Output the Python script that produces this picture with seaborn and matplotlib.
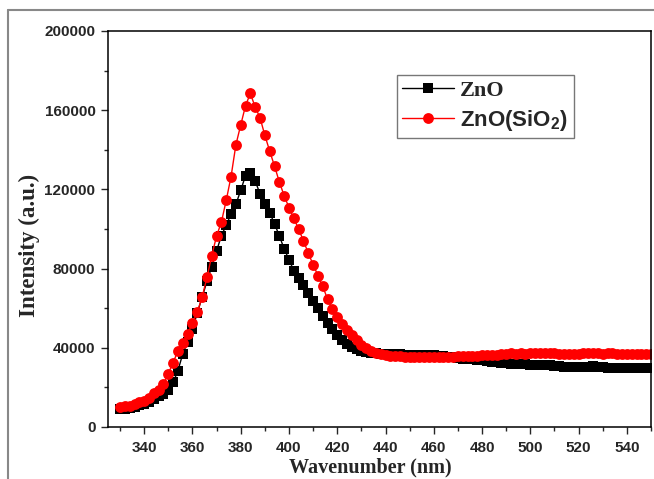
import matplotlib
matplotlib.use("Agg")
import matplotlib.pyplot as plt
import seaborn as sns
from matplotlib.lines import Line2D
from matplotlib.ticker import MultipleLocator

# wavelength grid of the spectrometer (nm), one point every 2 nm
wavelength = list(range(330, 551, 2))

# ZnO photoluminescence intensity (a.u.)
zno = [9000, 9300, 9700, 10300, 11000, 11500, 12800, 14300, 15500, 16800,
       18500, 22500, 28500, 37000, 43000, 49500, 57500, 65500, 73500, 81000,
       89000, 96500, 102000, 107500, 112500, 119500, 127000, 128300, 124200, 117800,
       112800, 108200, 102700, 96500, 90000, 84500, 79000, 75000, 71500, 67500,
       63500, 60000, 56000, 52500, 49500, 46500, 44000, 42000, 40500, 39300,
       38500, 38000, 37600, 37300, 37100, 37000, 36900, 36800, 36700, 36600,
       36600, 36500, 36500, 36400, 36300, 36200, 36000, 35700, 35400, 35100,
       34800, 34500, 34300, 34100, 33900, 33600, 33300, 33000, 32700, 32400,
       32100, 31900, 31800, 31700, 31600, 31500, 31400, 31300, 31200, 31100,
       30900, 30600, 30300, 30200, 30300, 30400, 30500, 30500, 30600, 30500,
       30300, 30000, 29800, 29700, 29800, 29700, 29800, 29700, 29800, 29700,
       29800]

# ZnO(SiO2) photoluminescence intensity (a.u.)
zno_sio2 = [10200, 10400, 10800, 11500, 12500, 13200, 14800, 17000, 18800, 21800,
            27000, 32500, 38500, 42500, 47000, 52500, 58000, 65500, 75500, 86500,
            96500, 103500, 114500, 126500, 142500, 152500, 162300, 168500, 161500, 156200,
            147300, 139400, 131800, 123800, 116800, 110800, 105400, 100000, 94000, 87800,
            82000, 76500, 71000, 64500, 59500, 55700, 52000, 49000, 46500, 44000,
            41500, 40000, 38600, 37600, 37000, 36500, 36100, 35800, 35600, 35500,
            35400, 35300, 35200, 35200, 35200, 35300, 35200, 35300, 35400, 35500,
            35600, 35800, 35800, 36000, 36000, 36200, 36300, 36500, 36600, 36800,
            37000, 37200, 37100, 37300, 37000, 37400, 37200, 37500, 37300, 37600,
            37400, 37000, 36800, 36900, 37100, 37000, 37200, 37400, 37600, 37200,
            37000, 37300, 37500, 37100, 36900, 37000, 36800, 36900, 37000, 36900,
            37000]

sns.set_style("ticks")
plt.rcParams["font.family"] = ["Liberation Sans", "DejaVu Sans"]
plt.rcParams["mathtext.fontset"] = "custom"
plt.rcParams["mathtext.rm"] = "Liberation Sans:bold"
plt.rcParams["mathtext.bf"] = "Liberation Sans:bold"
plt.rcParams["mathtext.default"] = "bf"

fig = plt.figure(figsize=(6.54, 4.79), dpi=100)
ax = fig.add_axes([0.1651, 0.1086, 0.8303, 0.8267])

sns.lineplot(x=wavelength, y=zno, ax=ax, color="black", marker="s",
             markersize=6.6, markeredgewidth=0, linewidth=1.0, label="ZnO")
sns.lineplot(x=wavelength, y=zno_sio2, ax=ax, color="red", marker="o",
             markersize=7.8, markeredgewidth=0, linewidth=1.0,
             label="ZnO(SiO$_2$)")

ax.set_xlim(325, 550)
ax.set_ylim(0, 200000)
ax.xaxis.set_major_locator(MultipleLocator(20))
ax.xaxis.set_minor_locator(MultipleLocator(10))
ax.yaxis.set_major_locator(MultipleLocator(40000))
ax.yaxis.set_minor_locator(MultipleLocator(20000))
ax.tick_params(which="major", direction="out", length=5, width=1, labelsize=11)
ax.tick_params(which="minor", direction="out", length=3, width=1)
ax.tick_params(axis="x", which="major", pad=5)
ax.tick_params(axis="y", which="major", pad=4)
for lab in ax.get_xticklabels() + ax.get_yticklabels():
    lab.set_fontweight("bold")
for sp in ax.spines.values():
    sp.set_visible(True)
    sp.set_linewidth(1.1)
    sp.set_color("black")

ax.set_xlabel("Wavenumber (nm)", family="Liberation Serif", fontweight="bold",
              fontsize=14.5)
ax.set_ylabel("Intensity (a.u.)", family="Liberation Serif", fontweight="bold",
              fontsize=16.5)
ax.xaxis.set_label_coords(0.484, -0.076)
ax.yaxis.set_label_coords(-0.126, 0.458)

leg = ax.legend(loc="upper left", bbox_to_anchor=(0.532, 0.889), borderaxespad=0,
                fontsize=16, handlelength=2.3, handletextpad=0.3,
                labelspacing=0.3, borderpad=0.25, fancybox=False,
                edgecolor="#777777", framealpha=1)
leg.get_frame().set_linewidth(1.0)
for t in leg.get_texts():
    t.set_fontweight("bold")
leg.get_texts()[0].set_fontfamily("Liberation Serif")

# gray outer frame of the original figure
fig.add_artist(Line2D([8 / 654, 8 / 654], [0, 1 - 10 / 479],
                      transform=fig.transFigure, color="#888888", linewidth=1.5))
fig.add_artist(Line2D([8 / 654, 1], [1 - 10 / 479, 1 - 10 / 479],
                      transform=fig.transFigure, color="#888888", linewidth=1.5))

fig.savefig("out.png", dpi=100)
